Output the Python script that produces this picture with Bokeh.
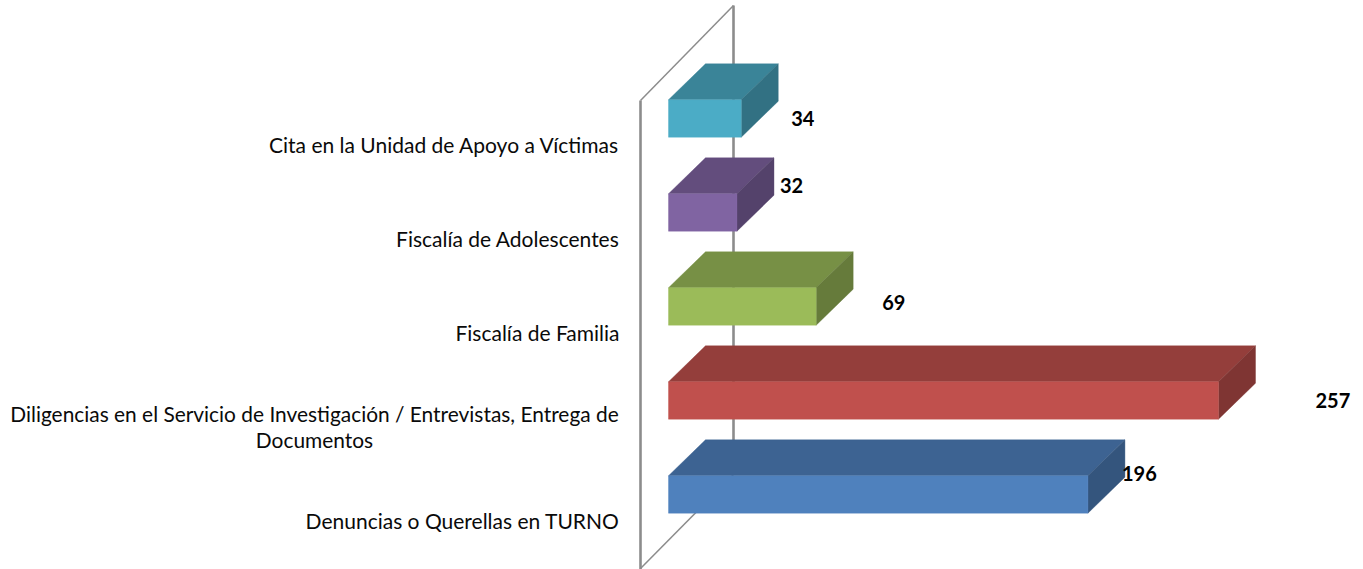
from bokeh.plotting import figure
from bokeh.embed import file_html
from bokeh.resources import INLINE
from bokeh.core.properties import value

# Data, bottom row first
categories = ["Denuncias o Querellas en TURNO",
              "Diligencias en el Servicio de Investigación / Entrevistas, Entrega de\nDocumentos",
              "Fiscalía de Familia",
              "Fiscalía de Adolescentes",
              "Cita en la Unidad de Apoyo a Víctimas"]
counts = [196, 257, 69, 32, 34]

front_colors = ["#4f81bd", "#c0504d", "#9bbb59", "#8064a2", "#4bacc6"]
top_colors = ["#3d6392", "#943e3b", "#779045", "#634d7d", "#3a8498"]
side_colors = ["#34557d", "#7f3533", "#667b3b", "#54426b", "#327183"]

# Data-label nudges in screen pixels (Excel's manual label placement)
label_dx = [34, 97, 66, 43, 50]
label_dy = [-21, 0, -4, -27, 0]

W, H = 1363, 569
X0_PAGE, PX_PER_UNIT = 668.0, 2.14      # value 0 on the page, px per count
Y0_PAGE, PX_PER_ROW = 494.0, 94.0       # row 0 centre on the page, px per row


def vx(page_x):
    return (page_x - X0_PAGE) / PX_PER_UNIT


def vy(page_y):
    return (Y0_PAGE - page_y) / PX_PER_ROW


p = figure(width=W, height=H, output_backend="svg", toolbar_location=None,
           x_range=(vx(0), vx(W)), y_range=(vy(H), vy(0)),
           x_axis_location=None, y_axis_location=None,
           min_border=0, min_border_left=0, min_border_right=0,
           min_border_top=0, min_border_bottom=0,
           outline_line_color=None, background_fill_color="white")
p.grid.visible = False

# 3-D wall behind the bars
GRAY = "#8c8c8c"
wall_front, wall_back = vx(640), vx(733)
p.line([wall_back, wall_back], [vy(5), vy(474)], line_color=GRAY, line_width=2.6)
p.line([wall_front, wall_front], [vy(100), vy(569)], line_color=GRAY, line_width=2.6)
p.line([wall_front, wall_back], [vy(100), vy(5)], line_color=GRAY, line_width=1.5)
p.line([wall_front, wall_back], [vy(568), vy(474)], line_color=GRAY, line_width=1.5)

# 3-D bars
half = 18.7 / PX_PER_ROW
depth_x = 37 / PX_PER_UNIT
depth_y = 36 / PX_PER_ROW
rows = list(range(len(counts)))

top_xs, top_ys, side_xs, side_ys, front_xs, front_ys = [], [], [], [], [], []
for i, c in zip(rows, counts):
    front_xs.append([0, c, c, 0])
    front_ys.append([i - half, i - half, i + half, i + half])
    top_xs.append([0, c, c + depth_x, depth_x])
    top_ys.append([i + half, i + half, i + half + depth_y, i + half + depth_y])
    side_xs.append([c, c + depth_x, c + depth_x, c])
    side_ys.append([i - half, i - half + depth_y, i + half + depth_y, i + half])

p.patches(top_xs, top_ys, fill_color=top_colors, line_color=top_colors, line_width=0.4)
p.patches(side_xs, side_ys, fill_color=side_colors, line_color=side_colors, line_width=0.4)
p.patches(front_xs, front_ys, fill_color=front_colors, line_color=front_colors, line_width=0.4)

# Value labels
p.text(counts, rows, text=[str(c) for c in counts], x_offset=label_dx, y_offset=label_dy,
       text_font=value("Lato"), text_font_style="bold", text_font_size="20px",
       text_color="black", text_align="left", text_baseline="middle")

# Category labels
label_shift = 25.5 / PX_PER_ROW
single = [i for i in rows if "\n" not in categories[i]]
multi = [i for i in rows if "\n" in categories[i]]
p.text([vx(619)] * len(single), [i - label_shift for i in single],
       text=[categories[i] for i in single],
       text_font=value("Lato"), text_font_size="21px", text_color="#0a0a0a",
       text_align="right", text_baseline="middle")
p.text([vx(314)] * len(multi), [i - label_shift for i in multi],
       text=[categories[i] for i in multi],
       text_font=value("Lato"), text_font_size="20.9px", text_color="#0a0a0a",
       text_align="center", text_baseline="middle", text_line_height=1.04)

open("out.html", "w").write(file_html(p, INLINE))
